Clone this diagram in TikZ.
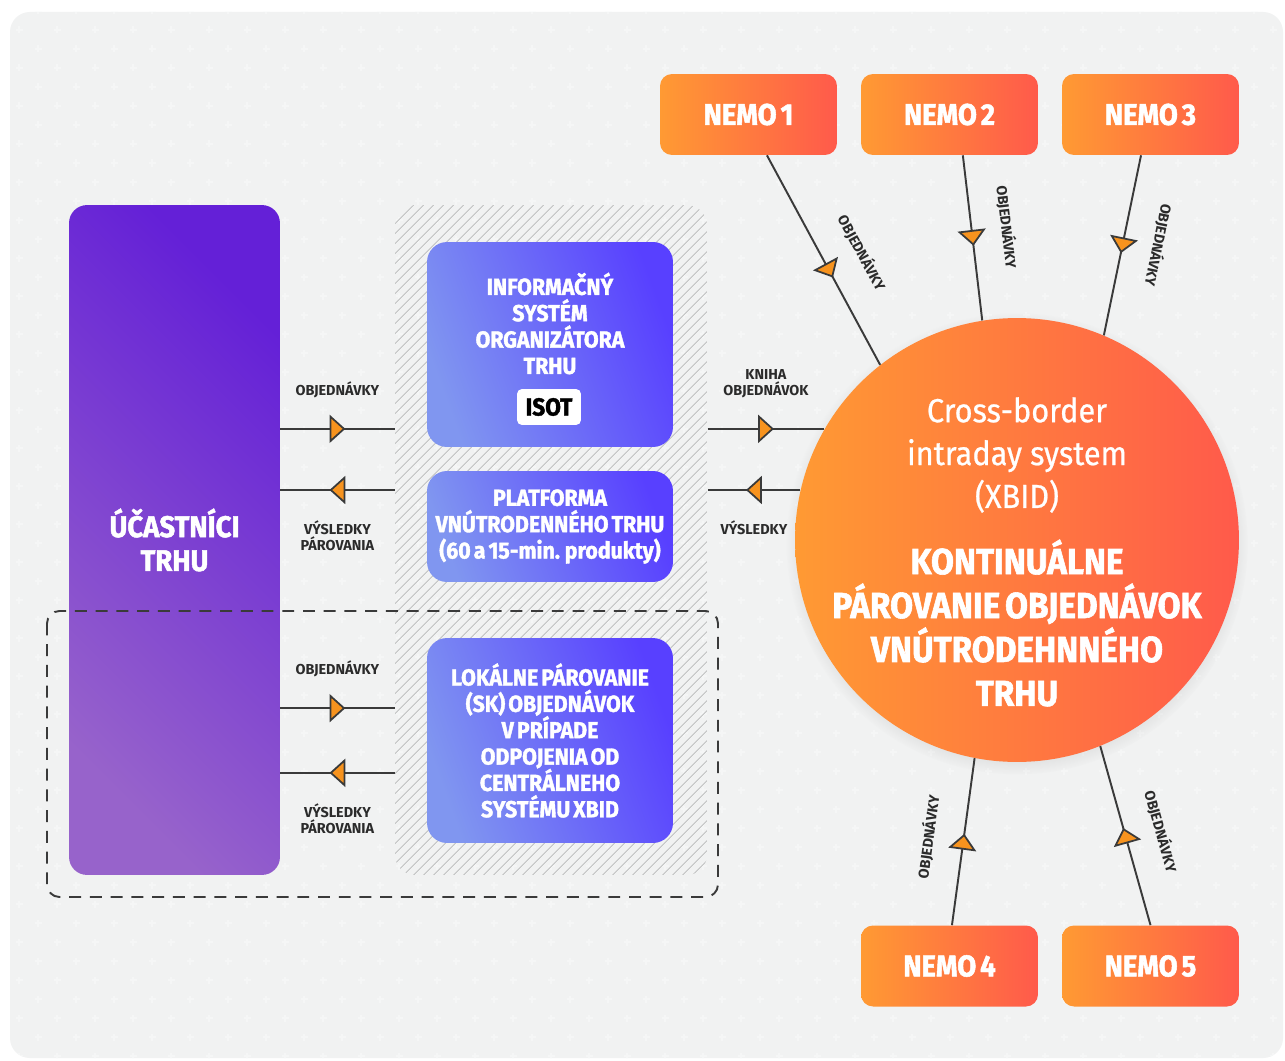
\documentclass[tikz,border=0pt]{standalone}
\usepackage{fontspec}
\setmainfont{Fira Sans}
\newfontfamily\condfont{Fira Sans}[FakeStretch=0.92, FakeBold=0.6]
\newfontfamily\heavyfont{Fira Sans Bold}[FakeStretch=0.92, FakeBold=1.6, WordSpace=0.6]
\usetikzlibrary{arrows.meta,decorations.markings,patterns.meta,shadows}

\definecolor{bggray}{HTML}{F1F2F2}
\definecolor{crossc}{HTML}{F5F6F6}
\definecolor{linec}{HTML}{3A3A3A}
\definecolor{labelc}{HTML}{2B2B2B}
\definecolor{triorange}{HTML}{F7931E}
\definecolor{purpA}{HTML}{9763CB}
\definecolor{purpB}{HTML}{6420D7}
\definecolor{blueA}{HTML}{8096F0}
\definecolor{blueB}{HTML}{5840FF}
\definecolor{orangeA}{HTML}{FF9A33}
\definecolor{orangeB}{HTML}{FF5A4B}
\definecolor{hatchc}{HTML}{C6C7C7}

\tikzset{
  flow/.style={draw=linec, color=linec, line width=1.1pt, postaction={decorate},
    decoration={markings, mark=at position #1 with
      {\arrow[xshift=4.5pt]{Triangle[length=9pt,width=16pt,fill=triorange,line width=1pt]}}}},
  flow/.default=0.5,
  lbl/.style={font=\bfseries\fontsize{8.2}{9}\selectfont, text=labelc, align=center, inner sep=0pt},
  ucastbox/.style={rounded corners=0.36cm, minimum width=4.22cm, minimum height=13.4cm,
    left color=purpA, right color=purpB, shading angle=135, text=white, align=center,
    font=\heavyfont\fontsize{17}{19.3}\selectfont},
  hatchbox/.style={rounded corners=0.4cm, minimum width=6.24cm, minimum height=13.4cm,
    pattern={Lines[angle=45,distance=4pt,line width=0.6pt]}, pattern color=hatchc},
  bluebox/.style={rounded corners=0.4cm, minimum width=4.92cm, left color=blueA, right color=blueB,
    shading angle=110, text=white, align=center, inner sep=0pt,
    font=\heavyfont\fontsize{13.2}{15}\selectfont},
  boxtext/.style={text=white, align=center, inner sep=0pt, font=\heavyfont\fontsize{13.2}{15}\selectfont},
  isottag/.style={fill=white, rounded corners=0.1cm, minimum width=1.28cm, minimum height=0.72cm,
    inner sep=0pt, text=black, font=\heavyfont\fontsize{14}{15}\selectfont},
  localbox/.style={draw=linec, line width=1.1pt, dash pattern=on 6.8pt off 5pt, rounded corners=0.25cm},
  xbidcircle/.style={circle, minimum size=8.88cm, inner sep=0pt, left color=orangeA, right color=orangeB,
    circular drop shadow={shadow xshift=0pt, shadow yshift=-2pt, shadow scale=1.04, opacity=0.3}},
  xbidtext/.style={text=white, align=center, inner sep=0pt, font=\condfont\fontsize{19}{24.4}\selectfont},
  xbidbold/.style={text=white, align=center, inner sep=0pt, font=\heavyfont\fontsize{20.6}{25}\selectfont},
  nemobox/.style={rounded corners=0.24cm, minimum width=3.54cm, minimum height=1.62cm,
    left color=orangeA, right color=orangeB, text=white,
    font=\heavyfont\fontsize{17}{20}\selectfont}
}

\begin{document}
\begin{tikzpicture}[x=0.02cm, y=-0.02cm]
% background
\fill[white] (0,0) rectangle (1285,1061);
\useasboundingbox (0,0) rectangle (1285,1061);
\fill[bggray, rounded corners=0.4cm] (10,12) rectangle (1283,1058);
\begin{scope}
  \clip[rounded corners=0.4cm] (10,12) rectangle (1283,1058);
  \foreach \m in {0,...,27}
    \draw[crossc, line width=0.6pt]
      \foreach \k in {0,...,33} {(38*\k-3.5,11+38*\m) -- ++(7,0) (38*\k,7.5+38*\m) -- ++(0,7)}
      \foreach \k in {0,...,33} {(19+38*\k-3.5,30+38*\m) -- ++(7,0) (19+38*\k,26.5+38*\m) -- ++(0,7)};
\end{scope}

% market participants and the hatched panel
\node[ucastbox] (ucast) at (174.5,540) {ÚČASTNÍCI\\TRHU};
\node[hatchbox] (panel) at (551,540) {};

% boxes on the panel
\node[bluebox, minimum height=4.1cm] (isot) at (550,344.5) {};
\node[boxtext] (isottext) at (550,323.5) {INFORMAČNÝ\\SYSTÉM\\ORGANIZÁTORA\\TRHU};
\node[isottag] (isottag) at (549,407) {ISOT};
\node[bluebox, minimum height=2.22cm] (plat) at (550,526.5) {PLATFORMA\\VNÚTRODENNÉHO TRHU\\(60 a 15-min. produkty)};
\node[bluebox, minimum height=4.1cm] (lok) at (550,740.5) {LOKÁLNE PÁROVANIE\\(SK) OBJEDNÁVOK\\V PRÍPADE\\ODPOJENIA OD\\CENTRÁLNEHO\\SYSTÉMU XBID};

% local fallback
\draw[localbox] (47,611) rectangle (718,897);

% XBID
\node[xbidcircle] (xbid) at (1017,540) {};
\node[xbidtext] (xbidname) at (1017,455) {Cross-border\\intraday system\\(XBID)};
\node[xbidbold] (xbidtask) at (1017,623) {KONTINUÁLNE\\PÁROVANIE OBJEDNÁVOK\\VNÚTRODEHNNÉHO\\TRHU};

% NEMOs
\foreach \n/\x/\y in {1/748.5/114.5, 2/949.5/114.5, 3/1150.5/114.5, 4/949.5/966, 5/1150.5/966}
  \node[nemobox] (nemo\n) at (\x,\y) {NEMO \n};

% orders and results, left
\coordinate (lokin) at ([yshift=18.4pt]lok.west);
\coordinate (lokout) at ([yshift=-18.4pt]lok.west);
\draw[flow] (ucast.east |- xbid.150) -- node[lbl, above=17pt] (ord1) {OBJEDNÁVKY} (panel.west |- xbid.150);
\draw[flow] (panel.west |- xbid.167) -- node[lbl, below=17pt] (res1) {VÝSLEDKY\\PÁROVANIA} (ucast.east |- xbid.167);
\draw[flow] (ucast.east |- lokin) -- node[lbl, above=17pt] (ord2) {OBJEDNÁVKY} (panel.west |- lokin);
\draw[flow] (panel.west |- lokout) -- node[lbl, below=17pt] (res2) {VÝSLEDKY\\PÁROVANIA} (ucast.east |- lokout);

% order book and results, right
\draw[flow] (panel.east |- xbid.150) -- node[lbl, above=17pt] (book) {KNIHA\\OBJEDNÁVOK} (xbid.150);
\draw[flow] (xbid.167) -- node[lbl, below=17pt] (res3) {VÝSLEDKY} (panel.east |- xbid.167);

% NEMO orders
\draw[flow=0.55] ([xshift=10.5pt]nemo1.south) -- node[lbl, sloped, pos=0.55, above=16pt] (n1) {OBJEDNÁVKY} (xbid.128);
\draw[flow] ([xshift=7.6pt]nemo2.south) -- node[lbl, sloped, pos=0.46, above=15pt] (n2) {OBJEDNÁVKY} (xbid.99);
\draw[flow] ([xshift=-5.4pt]nemo3.south) -- node[lbl, sloped, allow upside down, pos=0.46, above=15pt] (n3) {OBJEDNÁVKY} (xbid.67);
\draw[flow] ([xshift=1.4pt]nemo4.north) -- node[lbl, sloped, pos=0.5, above=15pt] (n4) {OBJEDNÁVKY} (xbid.259);
\draw[flow] (nemo5.north) -- node[lbl, sloped, pos=0.47, above=15pt] (n5) {OBJEDNÁVKY} (xbid.292);
\end{tikzpicture}
\end{document}
